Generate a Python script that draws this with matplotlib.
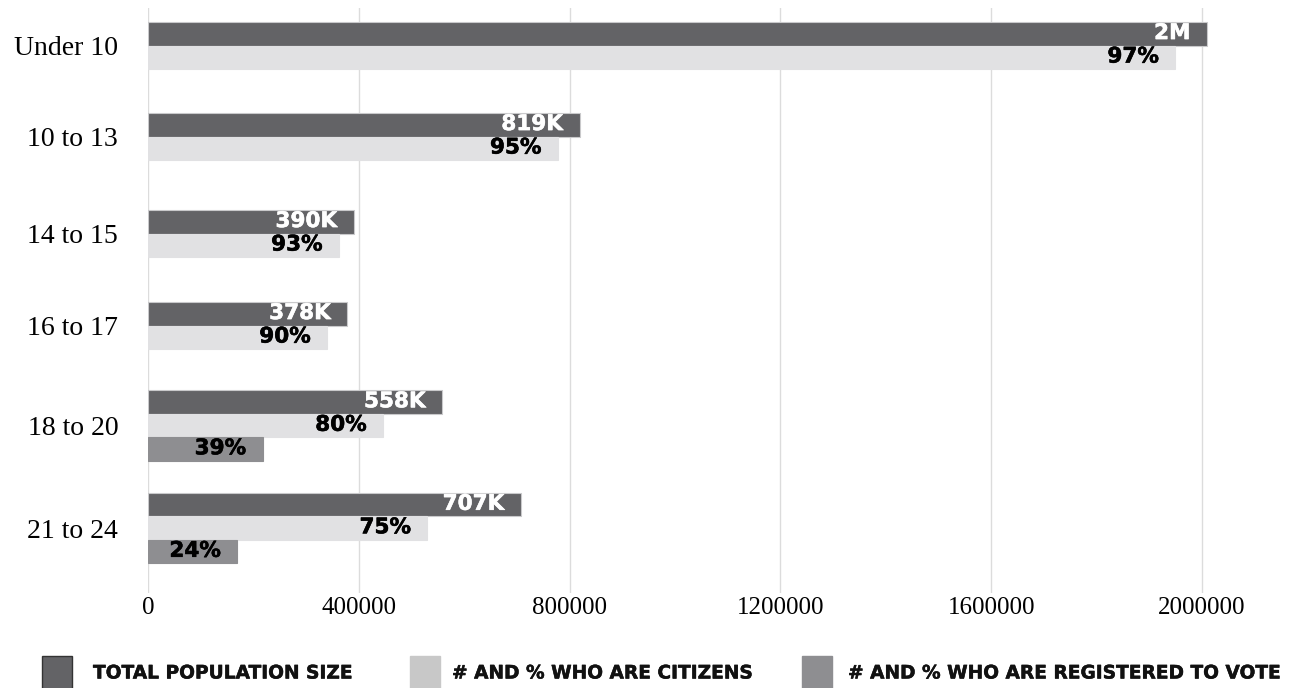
import matplotlib.pyplot as plt
import matplotlib.patheffects as pe
from matplotlib.patches import Rectangle

# age groups and population figures
age_groups = ["Under 10", "10 to 13", "14 to 15", "16 to 17", "18 to 20", "21 to 24"]
total_pop = [2010000, 819000, 390000, 378000, 558000, 707000]
citizen_pct = [97, 95, 93, 90, 80, 75]
registered_pct = [None, None, None, None, 39, 24]

legend_labels = ["TOTAL POPULATION SIZE", "# AND % WHO ARE CITIZENS",
                 "# AND % WHO ARE REGISTERED TO VOTE"]

# group centres on the vertical axis (axis runs in pixel-like units, top to bottom)
group_y = [45.5, 136.5, 233.5, 325.5, 425.5, 528]
bar_h = 23.5

c_total = "#636366"
c_citizen = "#e1e1e3"
c_registered = "#8e8e91"

W, H = 1293, 688
fig = plt.figure(figsize=(W / 100, H / 100), dpi=100)
x0, x1 = 148, 1249.4
y_top, y_bot = 8, 593
ax = fig.add_axes([x0 / W, 1 - y_bot / H, (x1 - x0) / W, (y_bot - y_top) / H])
ax.set_xlim(0, 2090000)
ax.set_ylim(y_bot, y_top)


def heavy(color, w=0.4):
    # thicken the bold glyphs a little
    return [pe.withStroke(linewidth=w, foreground=color)]


def short(v):
    if v >= 1e6:
        return f"{v / 1e6:.0f}M"
    return f"{v / 1e3:.0f}K"


for yc, tot, cp, rp in zip(group_y, total_pop, citizen_pct, registered_pct):
    rows = [(tot, c_total, short(tot), "white")]
    rows.append((tot * cp / 100, c_citizen, f"{cp}%", "black"))
    if rp is not None:
        rows.append((tot * rp / 100, c_registered, f"{rp}%", "black"))
    n = len(rows)
    for i, (val, col, txt, tcol) in enumerate(rows):
        y = yc + (i - (n - 1) / 2) * bar_h
        edge = "#c9c9cb" if col == c_total else col
        ax.barh(y, val, height=bar_h, color=col, edgecolor=edge,
                linewidth=0.8, zorder=2)
        ax.annotate(txt, (val, y), xytext=(-12, 0.5), textcoords="offset points",
                    ha="right", va="center", color=tcol, zorder=3,
                    family="DejaVu Sans", weight="bold", fontsize=15.5,
                    path_effects=heavy(tcol))

ax.set_yticks(group_y)
ax.set_yticklabels(age_groups, family="Liberation Serif", fontsize=20)
ax.set_xticks([0, 400000, 800000, 1200000, 1600000, 2000000])
ax.set_xticklabels(["0", "400000", "800000", "1200000", "1600000", "2000000"],
                   family="Liberation Serif", fontsize=18)
ax.tick_params(axis="y", length=0, pad=21.5)
ax.tick_params(axis="x", length=0, pad=3)
ax.grid(axis="x", color="#dcdcdc", linewidth=1, zorder=0)
ax.set_axisbelow(True)
for s in ax.spines.values():
    s.set_visible(False)

# legend row along the bottom
legend_colors = [c_total, "#c8c8c8", c_registered]
legend_edges = ["#333333", "#c8c8c8", c_registered]
box_x = [42, 410, 802]
text_x = [93, 452, 848]
for bx, tx, col, ec, lab in zip(box_x, text_x, legend_colors, legend_edges, legend_labels):
    fig.add_artist(Rectangle((bx / W, 1 - 689 / H), 30 / W, 33 / H,
                             transform=fig.transFigure, facecolor=col,
                             edgecolor=ec, linewidth=1))
    fig.text(tx / W, 1 - 673 / H, lab, ha="left", va="center",
             color="#111111", family="DejaVu Sans", weight="bold",
             fontsize=13.4, path_effects=heavy("#111111", 0.35))

fig.savefig("out.png", dpi=100)
